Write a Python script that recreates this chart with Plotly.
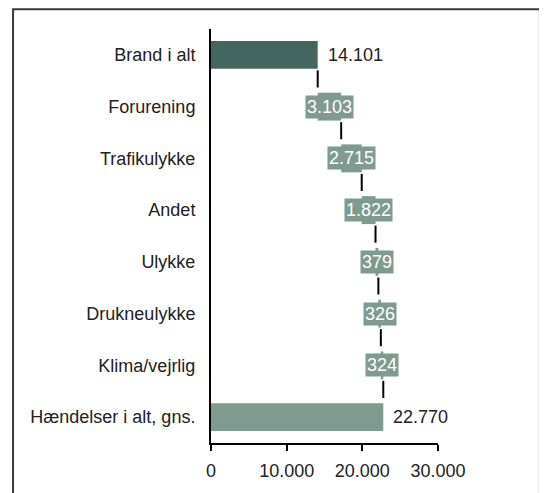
import plotly.graph_objects as go

# Chart data (Danish number format: "." as thousands separator).
categories = [
    "Brand i alt",
    "Forurening",
    "Trafikulykke",
    "Andet",
    "Ulykke",
    "Drukneulykke",
    "Klima/vejrlig",
    "Hændelser i alt, gns.",
]
values = [14101, 3103, 2715, 1822, 379, 326, 324, 22770]
measures = ["absolute", "relative", "relative", "relative",
            "relative", "relative", "relative", "total"]
x_ticks = [0, 10000, 20000, 30000]

DARK = "#456660"
LIGHT = "#7f9a8f"
FONT = "Liberation Sans, Arial, sans-serif"
BAR_WIDTH = 0.54


def fmt(v: int) -> str:
    """Format a number the Danish way."""
    return f"{v:,}".replace(",", ".")


def main() -> None:
    positions = list(range(len(categories)))

    # Work out where each floating bar starts.
    bases, running = [], 0
    for value, measure in zip(values, measures):
        if measure == "relative":
            bases.append(running)
            running += value
        else:
            bases.append(0)
            running = value
    ends = [b + v for b, v in zip(bases, values)]

    colors = [DARK] + [LIGHT] * (len(values) - 1)

    fig = go.Figure()
    fig.add_trace(
        go.Bar(
            y=positions,
            x=values,
            base=bases,
            orientation="h",
            width=BAR_WIDTH,
            marker_color=colors,
            marker_line_width=0,
            hoverinfo="skip",
        )
    )

    # Connector lines between consecutive bars.
    cx, cy = [], []
    for i in range(len(values) - 1):
        cx += [ends[i], ends[i], None]
        cy += [positions[i] + BAR_WIDTH / 2 + 0.03,
               positions[i + 1] - BAR_WIDTH / 2 - 0.1, None]
    fig.add_trace(
        go.Scatter(
            x=cx, y=cy, mode="lines",
            line=dict(color="black", width=2),
            hoverinfo="skip",
        )
    )

    # Value labels.
    for i, (value, measure) in enumerate(zip(values, measures)):
        if measure == "relative":
            fig.add_annotation(
                x=bases[i] + value / 2, y=positions[i],
                text=fmt(value), showarrow=False,
                bgcolor=LIGHT, borderpad=1,
                font=dict(family=FONT, size=18, color="white"),
            )
        else:
            fig.add_annotation(
                x=ends[i], y=positions[i],
                text=fmt(value), showarrow=False,
                xanchor="left", xshift=8,
                font=dict(family=FONT, size=18, color="#222222"),
            )

    # Outer frame around the chart.
    fig.add_shape(
        type="rect", xref="paper", yref="paper",
        x0=-0.872, x1=1.449, y0=-0.13, y1=1.048,
        line=dict(color="#3a3a3a", width=2),
    )

    # The page adds an 8px body margin, so the figure is a bit smaller.
    fig.update_layout(
        width=539,
        height=485,
        margin=dict(l=203, r=109, t=21, b=47),
        plot_bgcolor="white",
        paper_bgcolor="white",
        showlegend=False,
        separators=",.",
        font=dict(family=FONT, size=18, color="#222222"),
        xaxis=dict(
            range=[0, 30000],
            tickvals=x_ticks,
            tickformat=",d",
            showgrid=False,
            zeroline=False,
            showline=True,
            linecolor="black",
            linewidth=2,
            ticks="outside",
            ticklen=6,
            tickwidth=2,
            tickcolor="black",
            ticklabelstandoff=4,
            fixedrange=True,
        ),
        yaxis=dict(
            range=[len(categories) - 0.5, -0.5],
            tickvals=positions,
            ticktext=categories,
            showgrid=False,
            zeroline=False,
            showline=True,
            linecolor="black",
            linewidth=2,
            ticks="",
            ticklabelstandoff=10,
            fixedrange=True,
        ),
    )

    fig.write_html("out.html")


if __name__ == "__main__":
    main()
